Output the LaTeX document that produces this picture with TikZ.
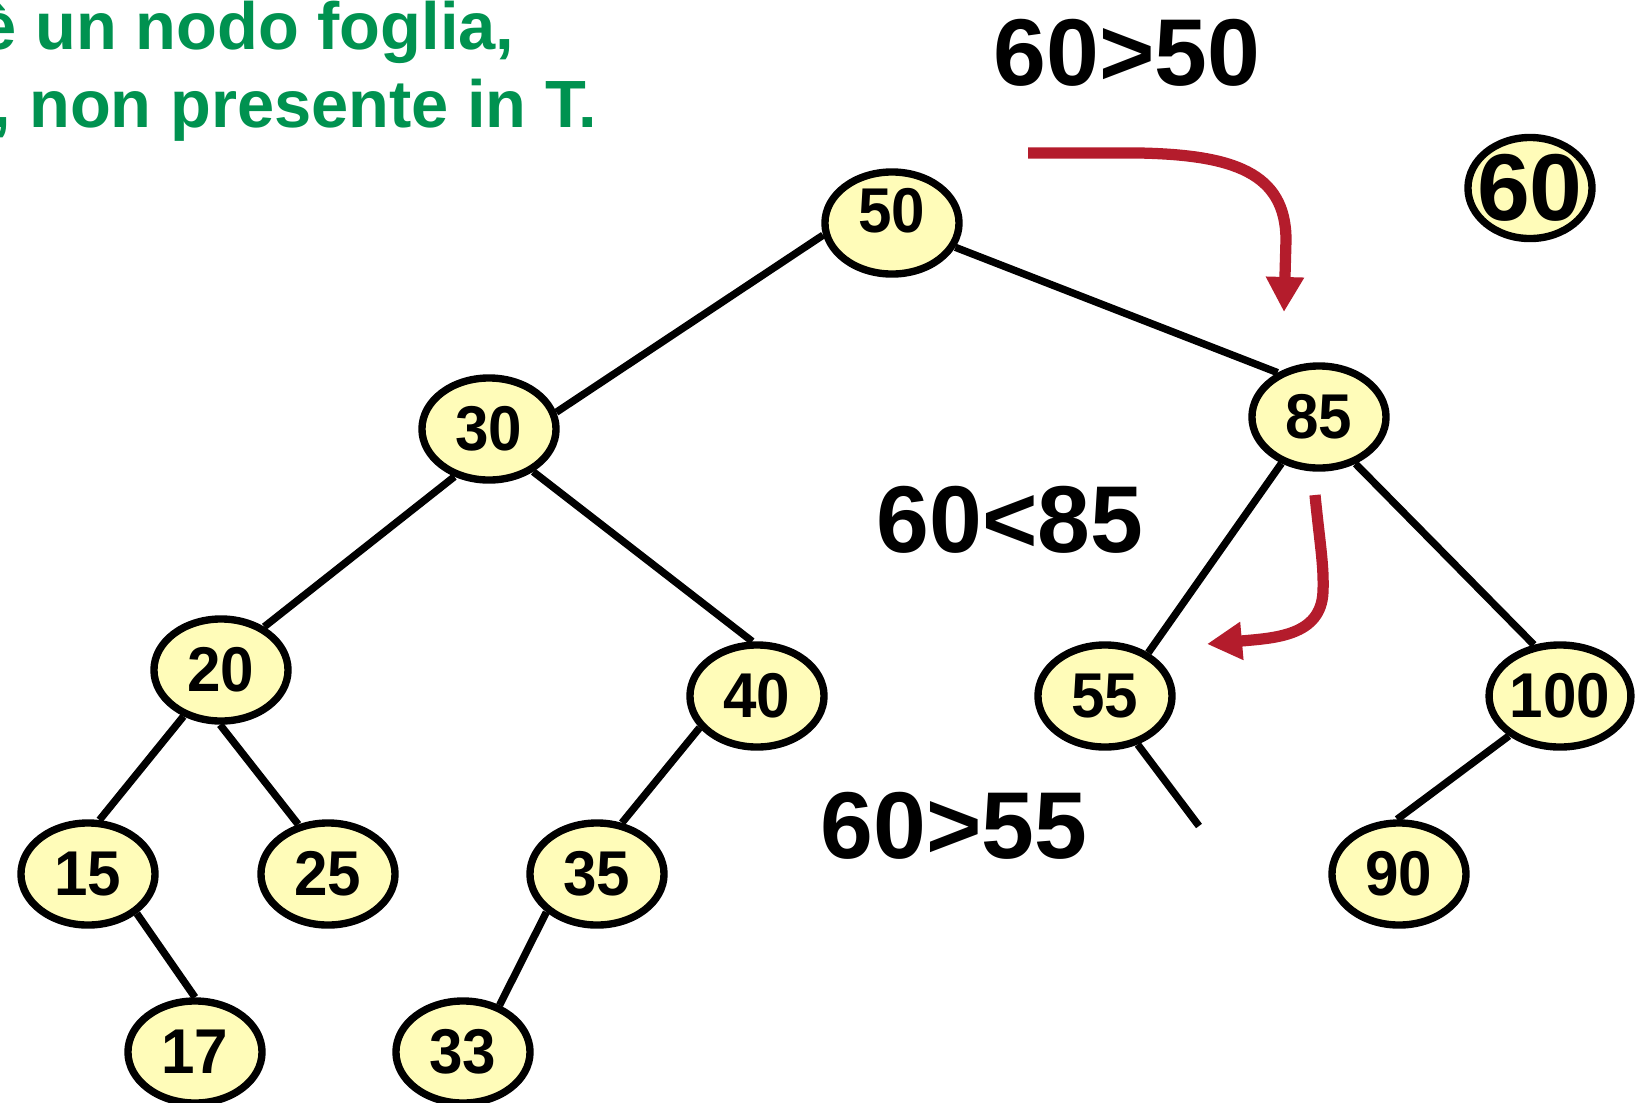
\documentclass[tikz,border=0pt]{standalone}
\usepackage{fontspec}
\setmainfont{Liberation Sans}
\newfontfamily\keyfont{Liberation Sans}[FakeStretch=0.95]
\usetikzlibrary{shapes.geometric, arrows.meta}

\definecolor{keyfill}{RGB}{255,252,185}
\definecolor{searchred}{RGB}{180,28,44}
\definecolor{notegreen}{RGB}{0,146,80}

\begin{document}
\begin{tikzpicture}[x=0.01cm, y=-0.01cm,
    keynode/.style={ellipse, draw, black, line width=2.1pt, fill=keyfill, minimum width=1.34cm, minimum height=1.02cm, inner sep=0pt, font=\keyfont\fontsize{18}{21}\selectfont\bfseries},
    cmp/.style={anchor=base, inner sep=0pt, font=\fontsize{27}{32}\selectfont\bfseries},
    note/.style={anchor=base east, inner sep=0pt, text=notegreen, font=\fontsize{19}{23}\selectfont\bfseries},
    branch/.style={draw, black, line width=2.1pt},
    search/.style={draw=searchred, line width=3.2pt, -{Triangle[width=0.36cm, length=0.35cm]}}]

    \useasboundingbox (0,0) rectangle (1635,1102);

    % Text running in from the left
    \node[note] (note1) at (515,49) {è un nodo foglia,};
    \node[note] (note2) at (598,127) {, non presente in T.};

    % The search tree
    \node[keynode, text depth=0.26cm] (n50) at (892,223) {50};
    \node[keynode] (n30) at (489,429) {30};
    \node[keynode] (n85) at (1319,417) {85};
    \node[keynode] (n20) at (221,670) {20};
    \node[keynode] (n40) at (757,696) {40};
    \node[keynode] (n55) at (1105,696) {55};
    \node[keynode] (n100) at (1560,696) {100};
    \node[keynode] (n15) at (88,874) {15};
    \node[keynode] (n25) at (328,874) {25};
    \node[keynode] (n35) at (597,874) {35};
    \node[keynode] (n90) at (1399,874) {90};
    \node[keynode] (n17) at (195,1052) {17};
    \node[keynode] (n33) at (463,1052) {33};
    \coordinate (stub) at (1199,826);

    % Key to be inserted
    \node[keynode, minimum width=1.24cm, minimum height=1.01cm,
          label={[cmp, anchor=center]center:60}] (n60) at (1530,188) {};

    % Branches
    \draw[branch] (n50.190) -- (n30.14);
    \draw[branch] (n50.339) -- (n85.133);
    \draw[branch] (n30.234) -- (n20.45);
    \draw[branch] (n30.316) -- (n40.95);
    \draw[branch] (n20.231) -- (n15.78);
    \draw[branch] (n20.269) -- (n25.121);
    \draw[branch] (n15.321) -- (n17.90);
    \draw[branch] (n40.209) -- (n35.64);
    \draw[branch] (n35.217) -- (n33.52);
    \draw[branch] (n85.231) -- (n55.45);
    \draw[branch] (n85.308) -- (n100.117);
    \draw[branch] (n100.218) -- (n90.92);
    \draw[branch] (n55.304) -- (stub);

    % Comparisons along the search path
    \node[cmp] (cmp50) at (1127,85) {60>50};
    \node[cmp] (cmp85) at (1010,552) {60<85};
    \node[cmp] (cmp55) at (954,858) {60>55};

    \coordinate (go1) at (1028,153);
    \coordinate (to1) at (1284,312);
    \coordinate (go2) at (1315,495);
    \coordinate (to2) at (1207,644);
    \draw[search] (go1) -- (1140,153) .. controls (1232,155) and (1286,172) .. (1286,240) -- (to1);
    \draw[search] (go2) .. controls (1320,545) and (1324,565) .. (1323,592)
        .. controls (1321,636) and (1275,638) .. (to2);

\end{tikzpicture}
\end{document}
